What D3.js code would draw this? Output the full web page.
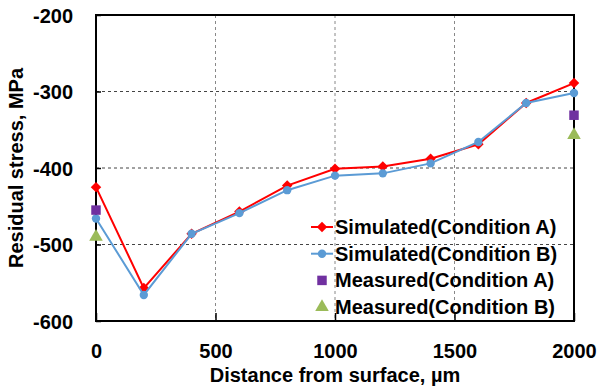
<!DOCTYPE html>
<html>
<head>
<meta charset="utf-8">
<script src="https://cdn.jsdelivr.net/npm/d3@7"></script>
<style>
  body { margin: 0; background: #fff; }
  text { font-family: "Liberation Sans", Arial, sans-serif; font-weight: bold; fill: #000; }
</style>
</head>
<body>
<div id="chart"></div>
<script>
// distances (µm)
const depth = [0, 200, 400, 600, 800, 1000, 1200, 1400, 1600, 1800, 2000];
const simA = [-425, -557, -486, -457, -423, -401, -398, -388, -369, -315, -289];
const simB = [-466, -566, -486, -459, -429, -410, -407, -394, -366, -315, -302];
const measDepth = [0, 2000];
const measA = [-455, -331];
const measB = [-490, -357];

const xTicks = [0, 500, 1000, 1500, 2000];
const yTicks = [-200, -300, -400, -500, -600];

const seriesNames = ["Simulated(Condition A)", "Simulated(Condition B)", "Measured(Condition A)", "Measured(Condition B)"];
const colors = { simA: "#ff0000", simB: "#5b9bd5", measA: "#7030a0", measB: "#9bbb59" };

const width = 599, height = 391;
const margin = { left: 96, right: 25, top: 15, bottom: 70 };
const innerW = width - margin.left - margin.right;
const innerH = height - margin.top - margin.bottom;

const svg = d3.select("#chart").append("svg")
  .attr("width", width)
  .attr("height", height);

const chart = svg.append("g")
  .attr("transform", `translate(${margin.left},${margin.top})`);

const x = d3.scaleLinear().domain([0, 2000]).range([0, innerW]);
const y = d3.scaleLinear().domain([-600, -200]).range([innerH, 0]);

// grid lines
chart.append("g").selectAll("line")
  .data(yTicks.filter(v => v !== -200 && v !== -600))
  .join("line")
  .attr("x1", 0).attr("x2", innerW)
  .attr("y1", d => y(d)).attr("y2", d => y(d))
  .attr("stroke", "#444").attr("stroke-width", 1)
  .attr("stroke-dasharray", "3,3");

chart.append("g").selectAll("line")
  .data(xTicks.filter(v => v !== 0 && v !== 2000))
  .join("line")
  .attr("x1", d => x(d)).attr("x2", d => x(d))
  .attr("y1", 0).attr("y2", innerH)
  .attr("stroke", "#888").attr("stroke-width", 1)
  .attr("stroke-dasharray", "3,3");

// axes (plain hyphen minus, no thousands separator)
const fmt = v => String(v);
const xAxis = d3.axisBottom(x).tickValues(xTicks).tickFormat(fmt).tickSizeInner(-8).tickSizeOuter(0);
const yAxis = d3.axisLeft(y).tickValues(yTicks).tickFormat(fmt).tickSizeInner(-5).tickSizeOuter(0);

const xAxisG = chart.append("g")
  .attr("transform", `translate(0,${innerH})`)
  .call(xAxis);
xAxisG.select(".domain").remove();
xAxisG.selectAll("line").attr("stroke", "#000").attr("stroke-width", 1.5);
xAxisG.selectAll("text")
  .attr("y", 37).attr("dy", null)
  .style("font-size", "20px").style("font-family", null);

const yAxisG = chart.append("g").call(yAxis);
yAxisG.select(".domain").remove();
yAxisG.selectAll("line").attr("stroke", "#000").attr("stroke-width", 1.5);
yAxisG.selectAll("text")
  .attr("x", -23).attr("dy", "0.35em")
  .style("font-size", "20px").style("font-family", null);

// frame
chart.append("rect")
  .attr("x", 0).attr("y", 0)
  .attr("width", innerW).attr("height", innerH)
  .attr("fill", "none")
  .attr("stroke", "#000").attr("stroke-width", 2);

// axis titles
svg.append("text")
  .attr("x", margin.left + innerW / 2)
  .attr("y", 382)
  .attr("text-anchor", "middle")
  .style("font-size", "20px")
  .text("Distance from surface, µm");

svg.append("text")
  .attr("transform", `translate(23,${margin.top + innerH / 2}) rotate(-90)`)
  .attr("text-anchor", "middle")
  .style("font-size", "20px")
  .text("Residual stress, MPa");

// series
const line = d3.line().x(d => x(d[0])).y(d => y(d[1]));
const diamond = d3.symbol().type(d3.symbolDiamond2).size(70);
const circle = d3.symbol().type(d3.symbolCircle).size(55);
const square = d3.symbol().type(d3.symbolSquare).size(90);
const triangle = d3.symbol().type(d3.symbolTriangle).size(80);

function drawSeries(xs, ys, color, sym, withLine) {
  const pts = xs.map((d, i) => [d, ys[i]]);
  const g = chart.append("g");
  if (withLine) {
    g.append("path")
      .attr("d", line(pts))
      .attr("fill", "none")
      .attr("stroke", color)
      .attr("stroke-width", 2);
  }
  g.selectAll("path.mark")
    .data(pts)
    .join("path")
    .attr("class", "mark")
    .attr("transform", d => `translate(${x(d[0])},${y(d[1])})`)
    .attr("d", sym)
    .attr("fill", color);
}

drawSeries(depth, simA, colors.simA, diamond, true);
drawSeries(depth, simB, colors.simB, circle, true);
drawSeries(measDepth, measA, colors.measA, square, false);
drawSeries(measDepth, measB, colors.measB, triangle, false);

// legend
const legend = [
  { name: seriesNames[0], color: colors.simA, sym: diamond, line: true },
  { name: seriesNames[1], color: colors.simB, sym: circle, line: true },
  { name: seriesNames[2], color: colors.measA, sym: square, line: false },
  { name: seriesNames[3], color: colors.measB, sym: triangle, line: false }
];

const legendG = svg.append("g").attr("transform", "translate(322,227)");
legend.forEach((d, i) => {
  const row = legendG.append("g").attr("transform", `translate(0,${i * 26.7})`);
  if (d.line) {
    row.append("line")
      .attr("x1", -11).attr("x2", 11)
      .attr("stroke", d.color).attr("stroke-width", 2);
  }
  row.append("path").attr("d", d.sym).attr("fill", d.color);
  row.append("text")
    .attr("x", 13).attr("dy", "0.35em")
    .style("font-size", "20px")
    .text(d.name);
});
</script>
</body>
</html>
